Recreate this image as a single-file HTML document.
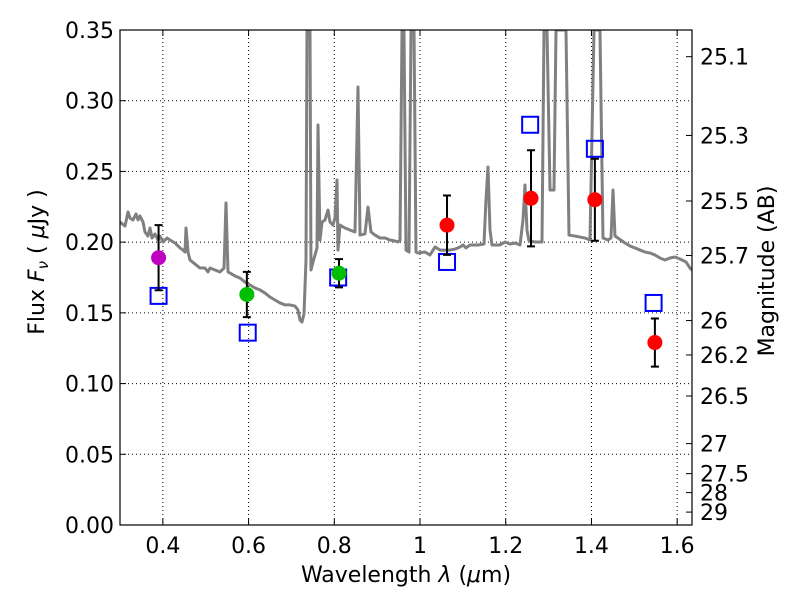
<!DOCTYPE html>
<html><head><meta charset="utf-8"><style>
body{margin:0;background:#fff}
svg{font-family:"DejaVu Sans","Liberation Sans",sans-serif}
</style></head><body>
<svg id="c" width="800" height="600"></svg>
<script>
const specLam=[];const specFlux=[];
const specPx=[[120,222],[125,226],[128,212],[130,218],[133,220],[136,214],[138,220],[140,216],[143,222],[145,232],[148,236],[150,228],[152,238],[155,234],[158,240],[160,236],[163,242],[167,238],[170,240],[175,243],[180,248],[183,250],[185,252],[186,228],[188,252],[190,260],[195,264],[200,268],[205,268],[208,272],[210,268],[215,270],[220,272],[224,268],[226,203],[228,272],[235,276],[240,278],[245,282],[250,285],[255,288],[260,290],[265,293],[270,297],[275,300],[280,303],[285,305],[290,305],[295,306],[298,310],[300,320],[302,322],[304,314],[306,260],[307,30],[310,30],[311,270],[313,262],[315,255],[317,248],[318,125],[320,240],[322,222],[325,220],[328,210],[330,222],[333,225],[335,218],[337,180],[338,250],[340,225],[345,228],[350,230],[355,232],[358,87],[360,235],[365,234],[368,207],[371,232],[375,235],[380,238],[385,238],[390,240],[395,241],[398,242],[400,240],[402,30],[404,30],[406,250],[409,252],[411,30],[414,30],[416,252],[418,253],[425,252],[430,255],[435,247],[440,250],[445,250],[450,250],[455,249],[460,247],[463,245],[466,248],[470,245],[478,245],[484,244],[486,200],[488,167],[490,230],[492,245],[500,245],[505,242],[510,244],[515,243],[520,245],[523,220],[525,185],[527,230],[529,241],[535,242],[542,242],[544,30],[547,30],[550,190],[554,190],[556,30],[566,30],[569,235],[575,236],[580,237],[585,238],[590,240],[594,30],[600,30],[603,238],[608,240],[611,238],[613,190],[615,236],[618,238],[625,243],[630,246],[635,248],[640,250],[645,252],[650,253],[655,255],[660,258],[665,260],[670,258],[675,257],[680,259],[686,262],[690,268],[692,270]];
specPx.forEach(p=>{specLam.push(+(0.3+(p[0]-120)/428.6).toFixed(4));specFlux.push(+((525-p[1])/1414.3).toFixed(4));});
const ptLam=[0.39,0.596,0.811,1.063,1.259,1.408,1.548];
const ptFlux=[0.189,0.163,0.178,0.212,0.231,0.230,0.129];
const ptErr=[0.023,0.016,0.010,0.021,0.034,0.029,0.017];
const ptColor=['#bf00bf','#00bf00','#00bf00','#ff0000','#ff0000','#ff0000','#ff0000'];
const modelLam=[0.39,0.598,0.809,1.063,1.257,1.408,1.545];
const modelFlux=[0.162,0.136,0.175,0.186,0.283,0.266,0.157];
const xTicks=[0.4,0.6,0.8,1.0,1.2,1.4,1.6];
const xTickLabels=['0.4','0.6','0.8','1','1.2','1.4','1.6'];
const yTicks=[0,0.05,0.10,0.15,0.20,0.25,0.30,0.35];
const yTickLabels=['0.00','0.05','0.10','0.15','0.20','0.25','0.30','0.35'];
const magTicks=[25.1,25.3,25.5,25.7,26,26.2,26.5,27,27.5,28,29];

const L=120,R=692,T=30,B=525;
const X=v=>L+(v-0.3)/(1.6346-0.3)*(R-L);
const Y=v=>B-v/0.35*(B-T);
const svg=document.getElementById('c');const NS='http://www.w3.org/2000/svg';
function mk(t,a,p){const e=document.createElementNS(NS,t);for(const k in a)e.setAttribute(k,a[k]);(p||svg).appendChild(e);return e;}
const defs=mk('defs',{});const cp=mk('clipPath',{id:'cl'},defs);mk('rect',{x:L,y:T,width:R-L,height:B-T},cp);
xTicks.forEach(v=>{const g=mk('line',{x1:X(v),x2:X(v),y1:T,y2:B,stroke:'#000','stroke-dasharray':'1,3','stroke-width':1});

});
yTicks.forEach(v=>{const g=mk('line',{x1:L,x2:R,y1:Y(v),y2:Y(v),stroke:'#000','stroke-dasharray':'1,3','stroke-width':1});

});
const sp=mk('polyline',{points:specLam.map((l,i)=>X(l)+','+Y(specFlux[i])).join(' '),fill:'none',stroke:'#808080','stroke-width':3,'clip-path':'url(#cl)','stroke-linejoin':'round'});


modelLam.forEach((l,i)=>{const s=mk('rect',{x:X(l)-8,y:Y(modelFlux[i])-8,width:16,height:16,fill:'none',stroke:'#0000ff','stroke-width':2});

});
ptLam.forEach((l,i)=>{const x=X(l);const y1=Y(ptFlux[i]+ptErr[i]),y2=Y(ptFlux[i]-ptErr[i]);
const e=mk('path',{d:`M${x},${y1}V${y2}M${x-4},${y1}H${x+4}M${x-4},${y2}H${x+4}`,stroke:'#000','stroke-width':2,fill:'none'});


const c=mk('circle',{cx:x,cy:Y(ptFlux[i]),r:7.5,fill:ptColor[i]});

});
const fr=mk('rect',{x:L,y:T,width:R-L,height:B-T,fill:'none',stroke:'#000','stroke-width':1.2});


xTicks.forEach((v,i)=>{mk('path',{d:`M${X(v)},${B}v-6M${X(v)},${T}v6`,stroke:'#000'});
const t=mk('text',{x:X(v),y:B+28,'text-anchor':'middle','font-size':22});t.textContent=xTickLabels[i];

});
yTicks.forEach((v,i)=>{mk('path',{d:`M${L},${Y(v)}h6`,stroke:'#000'});
const t=mk('text',{x:L-6,y:Y(v)+8,'text-anchor':'end','font-size':22});t.textContent=yTickLabels[i];

});
magTicks.forEach(m=>{const f=Math.pow(10,-0.4*(m-23.9));const y=Y(f);
mk('path',{d:`M${R},${y}h-6`,stroke:'#000'});
const t=mk('text',{x:R+8,y:y+8,'font-size':22});t.textContent=String(m);

});
</script>
<svg width="800" height="600" style="position:absolute;left:0;top:0" font-family="DejaVu Sans, Liberation Sans, sans-serif">
<text x="406" y="582" text-anchor="middle" font-size="22">Wavelength  <tspan font-style="italic">λ</tspan> (<tspan font-style="italic">μ</tspan>m)</text>
<text transform="translate(44,262) rotate(-90)" text-anchor="middle" font-size="22">Flux  <tspan font-style="italic">F</tspan><tspan font-style="italic" font-size="15" dy="4">ν</tspan><tspan dy="-4">  (  </tspan><tspan font-style="italic">μ</tspan>Jy )</text>
<text transform="translate(774,271) rotate(-90)" text-anchor="middle" font-size="22">Magnitude (AB)</text>
</svg>
</body></html>
